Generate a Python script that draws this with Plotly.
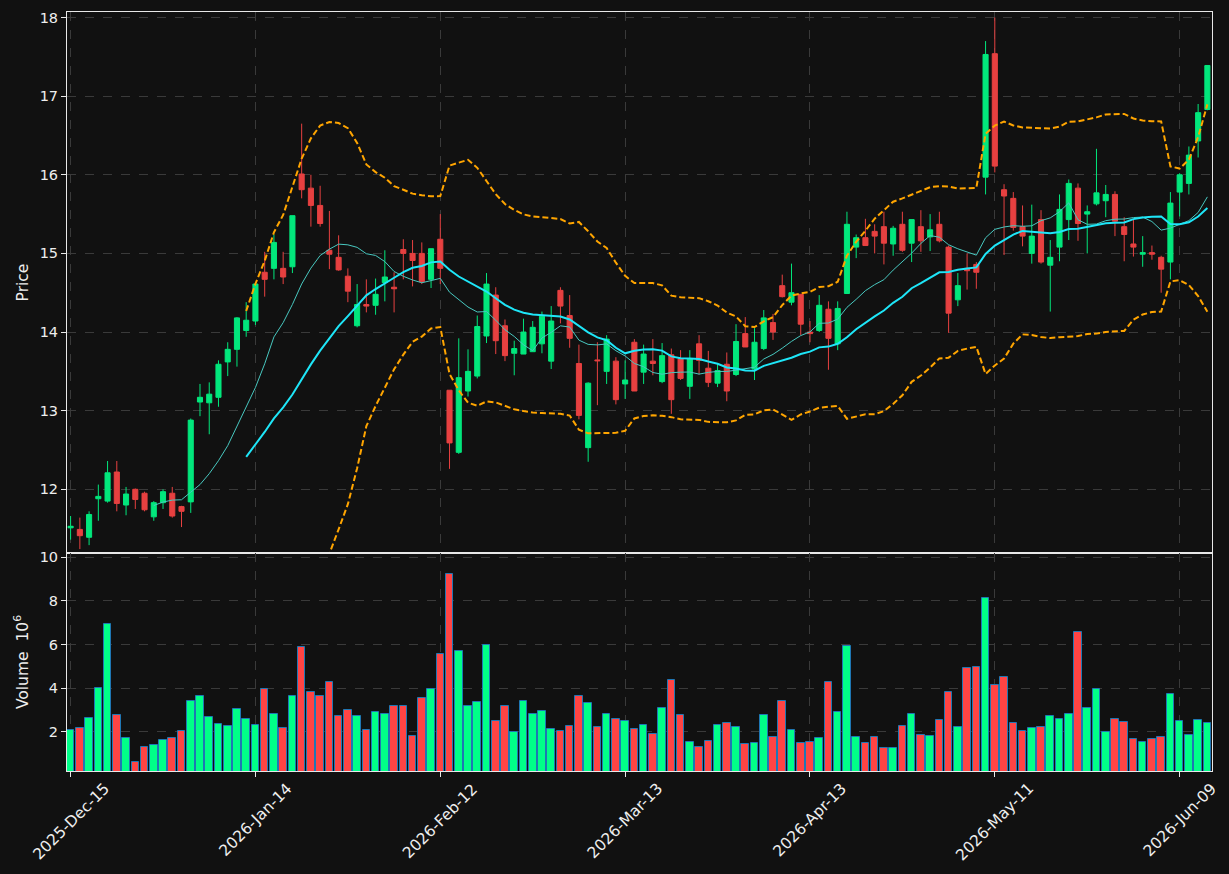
import pandas as pd
import numpy as np
import plotly.graph_objects as go
from plotly.subplots import make_subplots

# ---------------- data ----------------
open_vals = [11.51, 11.49, 11.39, 11.88, 11.85, 12.22, 11.80, 12.00, 11.95, 11.65,
             11.83, 11.95, 11.78, 11.84, 13.11, 13.10, 13.17, 13.62, 13.78, 14.02,
             14.14, 14.76, 14.81, 14.81, 14.83, 16.01, 15.83, 15.61, 15.04, 14.95,
             14.71, 14.08, 14.35, 14.34, 14.63, 14.57, 15.05, 15.00, 15.00, 14.67,
             15.18, 13.26, 12.47, 13.25, 13.44, 13.95, 14.47, 14.08, 13.73, 13.72,
             13.75, 13.85, 13.63, 14.53, 14.21, 13.60, 12.53, 13.645, 13.50, 13.63,
             13.34, 13.87, 13.49, 13.63, 13.37, 13.71, 13.66, 13.31, 13.85, 13.54,
             13.35, 13.59, 13.46, 13.98, 13.53, 13.79, 14.12, 14.59, 14.38, 14.48,
             14.00, 14.02, 14.29, 13.85, 14.49, 15.08, 15.20, 15.28, 15.34, 15.12,
             15.37, 15.13, 15.34, 15.21, 15.37, 15.08, 14.41, 14.81, 14.86, 15.97,
             17.54, 15.81, 15.70, 15.34, 15.00, 15.43, 14.85, 15.08, 15.43, 15.83,
             15.50, 15.63, 15.67, 15.75, 15.34, 15.12, 14.99, 15.01, 14.95, 14.89,
             15.78, 15.89, 16.43, 16.83]
high_vals = [11.66, 11.64, 11.72, 12.06, 12.36, 12.36, 12.03, 12.01, 11.97, 11.85,
             12.00, 12.03, 11.79, 12.90, 13.34, 13.36, 13.64, 13.87, 14.19, 14.38,
             14.63, 15.02, 15.24, 15.02, 15.48, 16.65, 16.00, 15.86, 15.54, 15.23,
             14.81, 14.61, 14.67, 14.68, 15.04, 14.76, 15.18, 15.17, 15.14, 15.06,
             15.50, 13.26, 13.92, 13.78, 14.21, 14.75, 14.57, 14.16, 13.89, 14.17,
             14.14, 14.26, 14.33, 14.57, 14.47, 13.84, 13.36, 13.87, 13.96, 13.68,
             13.64, 13.91, 13.84, 13.91, 13.86, 13.79, 13.77, 13.77, 13.96, 13.76,
             13.59, 13.74, 14.10, 14.19, 14.05, 14.28, 14.23, 14.73, 14.87, 14.48,
             14.14, 14.47, 14.39, 14.39, 15.53, 15.24, 15.44, 15.37, 15.53, 15.35,
             15.53, 15.43, 15.55, 15.50, 15.53, 15.10, 14.75, 15.00, 14.89, 17.70,
             18.00, 15.88, 15.78, 15.61, 15.62, 15.55, 15.17, 15.75, 15.94, 15.89,
             15.61, 16.33, 15.87, 15.79, 15.46, 15.44, 15.22, 15.10, 14.97, 15.78,
             16.02, 16.36, 16.90, 17.39]
low_vals = [11.36, 11.24, 11.29, 11.60, 11.83, 11.72, 11.67, 11.75, 11.72, 11.60,
            11.75, 11.64, 11.52, 11.70, 12.93, 12.70, 13.05, 13.44, 13.56, 13.94,
            14.09, 14.45, 14.67, 14.61, 14.75, 15.70, 15.34, 15.34, 14.80, 14.78,
            14.38, 14.06, 14.25, 14.22, 14.39, 14.25, 14.67, 14.58, 14.61, 14.56,
            14.61, 12.26, 12.45, 13.18, 13.41, 13.86, 13.72, 13.63, 13.45, 13.72,
            13.75, 13.73, 13.53, 14.11, 13.80, 12.89, 12.35, 13.07, 13.34, 13.08,
            13.15, 13.25, 13.34, 13.45, 13.35, 12.96, 13.39, 13.15, 13.46, 13.30,
            13.30, 13.12, 13.44, 13.81, 13.39, 13.77, 13.90, 14.44, 14.34, 13.96,
            13.87, 14.00, 13.52, 13.77, 14.49, 14.94, 15.10, 15.00, 14.86, 14.97,
            15.02, 14.89, 15.02, 15.03, 15.14, 13.99, 14.33, 14.54, 14.55, 15.75,
            16.03, 14.98, 15.29, 15.09, 14.87, 14.87, 14.26, 14.90, 15.17, 15.16,
            15.00, 15.61, 15.46, 15.22, 14.90, 14.96, 14.83, 14.92, 14.50, 14.67,
            15.47, 15.75, 16.22, 16.82]
close_vals = [11.53, 11.41, 11.68, 11.91, 12.21, 11.82, 11.94, 11.87, 11.74, 11.83,
              11.97, 11.66, 11.72, 12.88, 13.17, 13.21, 13.59, 13.78, 14.18, 14.15,
              14.61, 14.67, 15.14, 14.70, 15.48, 15.81, 15.61, 15.38, 14.99, 14.79,
              14.52, 14.35, 14.33, 14.48, 14.70, 14.55, 15.00, 14.91, 14.64, 15.06,
              14.81, 12.59, 13.42, 13.50, 14.07, 14.61, 13.89, 13.70, 13.79, 14.00,
              14.06, 14.20, 14.14, 14.33, 13.92, 12.94, 13.35, 13.635, 13.91, 13.14,
              13.39, 13.25, 13.72, 13.60, 13.70, 13.14, 13.41, 13.66, 13.64, 13.36,
              13.51, 13.25, 13.88, 13.81, 13.87, 14.18, 14.00, 14.45, 14.50, 14.10,
              13.98, 14.34, 13.92, 14.30, 15.37, 15.20, 15.10, 15.22, 15.13, 15.32,
              15.04, 15.43, 15.16, 15.30, 15.16, 14.24, 14.59, 14.78, 14.76, 17.53,
              16.11, 15.73, 15.33, 15.22, 15.22, 14.89, 14.95, 15.56, 15.89, 15.38,
              15.53, 15.77, 15.75, 15.41, 15.24, 15.08, 15.01, 14.99, 14.80, 15.64,
              16.00, 16.25, 16.79, 17.39]
volume_millions = [2.09, 2.16, 2.61, 3.99, 6.93, 2.75, 1.70, 0.61, 1.29, 1.40,
                   1.61, 1.70, 2.02, 3.39, 3.66, 2.68, 2.36, 2.25, 3.05, 2.59,
                   2.32, 3.96, 2.82, 2.16, 3.62, 5.90, 3.84, 3.62, 4.30, 2.70,
                   3.00, 2.70, 2.07, 2.91, 2.82, 3.16, 3.16, 1.79, 3.53, 3.96,
                   5.56, 9.25, 5.71, 3.16, 3.34, 5.99, 2.50, 3.16, 1.97, 3.39,
                   2.82, 2.96, 2.13, 2.04, 2.27, 3.62, 3.30, 2.20, 2.82, 2.59,
                   2.50, 2.13, 2.32, 1.91, 3.09, 4.35, 2.75, 1.54, 1.31, 1.59,
                   2.32, 2.41, 2.23, 1.45, 1.49, 2.77, 1.75, 3.39, 2.09, 1.49,
                   1.54, 1.70, 4.30, 2.91, 5.94, 1.75, 1.49, 1.75, 1.27, 1.27,
                   2.25, 2.82, 1.84, 1.79, 2.54, 3.84, 2.23, 4.91, 4.96, 8.11,
                   4.12, 4.51, 2.41, 2.02, 2.18, 2.23, 2.73, 2.59, 2.82, 6.58,
                   3.09, 3.94, 1.97, 2.57, 2.43, 1.66, 1.52, 1.66, 1.77, 3.71,
                   2.51, 1.83, 2.56, 2.39]

market_holidays = ['2025-12-25', '2026-01-01', '2026-01-19', '2026-02-16',
                   '2026-04-03', '2026-05-25']
first_session = '2025-12-15'
tick_every = 20

# ---------------- derived ----------------
dates = pd.bdate_range(first_session, periods=len(close_vals), freq='C',
                       holidays=market_holidays)
x_cat = dates.strftime('%Y-%m-%d').tolist()
tick_vals = x_cat[::tick_every]
tick_text = dates.strftime('%Y-%b-%d').tolist()[::tick_every]

close_s = pd.Series(close_vals)
ma10 = close_s.rolling(10).mean()
ma20 = close_s.rolling(20).mean()
sd20 = close_s.rolling(20).std()
bb_up = ma20 + 2 * sd20
bb_lo = ma20 - 2 * sd20

UP_C = '#02e77c'
DN_C = '#e74040'
VUP_C = '#00ff88'
VDN_C = '#ff4444'
vol_colors = [VUP_C if c >= o else VDN_C for o, c in zip(open_vals, close_vals)]

BG = '#111111'
FG = '#eeeeee'
GRID = '#3a3a3a'
FONT = 'DejaVu Sans'

fig = make_subplots(rows=2, cols=1, shared_xaxes=True, vertical_spacing=0,
                    row_heights=[541, 218])

fig.add_trace(go.Candlestick(
    x=x_cat, open=open_vals, high=high_vals, low=low_vals, close=close_vals,
    increasing=dict(line=dict(color=UP_C, width=1), fillcolor=UP_C),
    decreasing=dict(line=dict(color=DN_C, width=1), fillcolor=DN_C),
    whiskerwidth=0, showlegend=False, hoverinfo='skip'), row=1, col=1)

fig.add_trace(go.Scatter(x=x_cat, y=ma10, mode='lines',
                         line=dict(color='#48c8c0', width=1),
                         showlegend=False, hoverinfo='skip'), row=1, col=1)
fig.add_trace(go.Scatter(x=x_cat, y=ma20, mode='lines',
                         line=dict(color='#1ee6f8', width=2),
                         showlegend=False, hoverinfo='skip'), row=1, col=1)
fig.add_trace(go.Scatter(x=x_cat, y=bb_up, mode='lines',
                         line=dict(color='#ffa500', width=2, dash='6px,3px'),
                         showlegend=False, hoverinfo='skip'), row=1, col=1)
fig.add_trace(go.Scatter(x=x_cat, y=bb_lo, mode='lines',
                         line=dict(color='#ffa500', width=2, dash='6px,3px'),
                         showlegend=False, hoverinfo='skip'), row=1, col=1)

fig.add_trace(go.Bar(x=x_cat, y=volume_millions, width=0.82,
                     marker=dict(color=vol_colors, line=dict(color='#1f77b4', width=1)),
                     showlegend=False, hoverinfo='skip'), row=2, col=1)

axis_common = dict(showline=True, linecolor='#e8e8e8', linewidth=1, mirror=True,
                   gridcolor=GRID, griddash='dash', gridwidth=1,
                   tickfont=dict(family=FONT, size=14.5, color=FG),
                   zeroline=False, automargin=False)

fig.update_xaxes(type='category', range=[-0.39, 123.5], tickvals=tick_vals,
                 rangeslider=dict(visible=False), showticklabels=False,
                 showgrid=True, **axis_common)
fig.update_xaxes(ticks='', row=1, col=1)
fig.update_xaxes(ticks='outside', ticklen=5, tickcolor='#e8e8e8', row=2, col=1)

fig.update_yaxes(ticks='outside', ticklen=5, tickcolor='#e8e8e8', showgrid=True,
                 **axis_common)
fig.update_yaxes(range=[11.19, 18.07], tick0=0, dtick=1,
                 title=dict(text='Price', font=dict(family=FONT, size=15.5, color=FG),
                            standoff=7),
                 row=1, col=1)
fig.update_yaxes(range=[0.2, 10.19], tick0=0, dtick=2,
                 title=dict(text='Volume  10<sup>6</sup>',
                            font=dict(family=FONT, size=15.5, color=FG), standoff=7),
                 row=2, col=1)

# date labels, rotated 45 degrees and centred under each tick
for tv, tt in zip(tick_vals, tick_text):
    fig.add_annotation(x=tv, xref='x2', y=0, yref='paper', text=tt,
                       textangle=-45, xanchor='center', yanchor='top',
                       yshift=-6, showarrow=False,
                       font=dict(family=FONT, size=15.5, color=FG))

fig.update_layout(width=1229, height=874,
                  margin=dict(l=67, r=17, t=12, b=103),
                  paper_bgcolor=BG, plot_bgcolor=BG,
                  boxgap=0.45, boxgroupgap=0,
                  font=dict(family=FONT, size=14, color=FG),
                  showlegend=False, bargap=0)

fig.write_html('out.html')
